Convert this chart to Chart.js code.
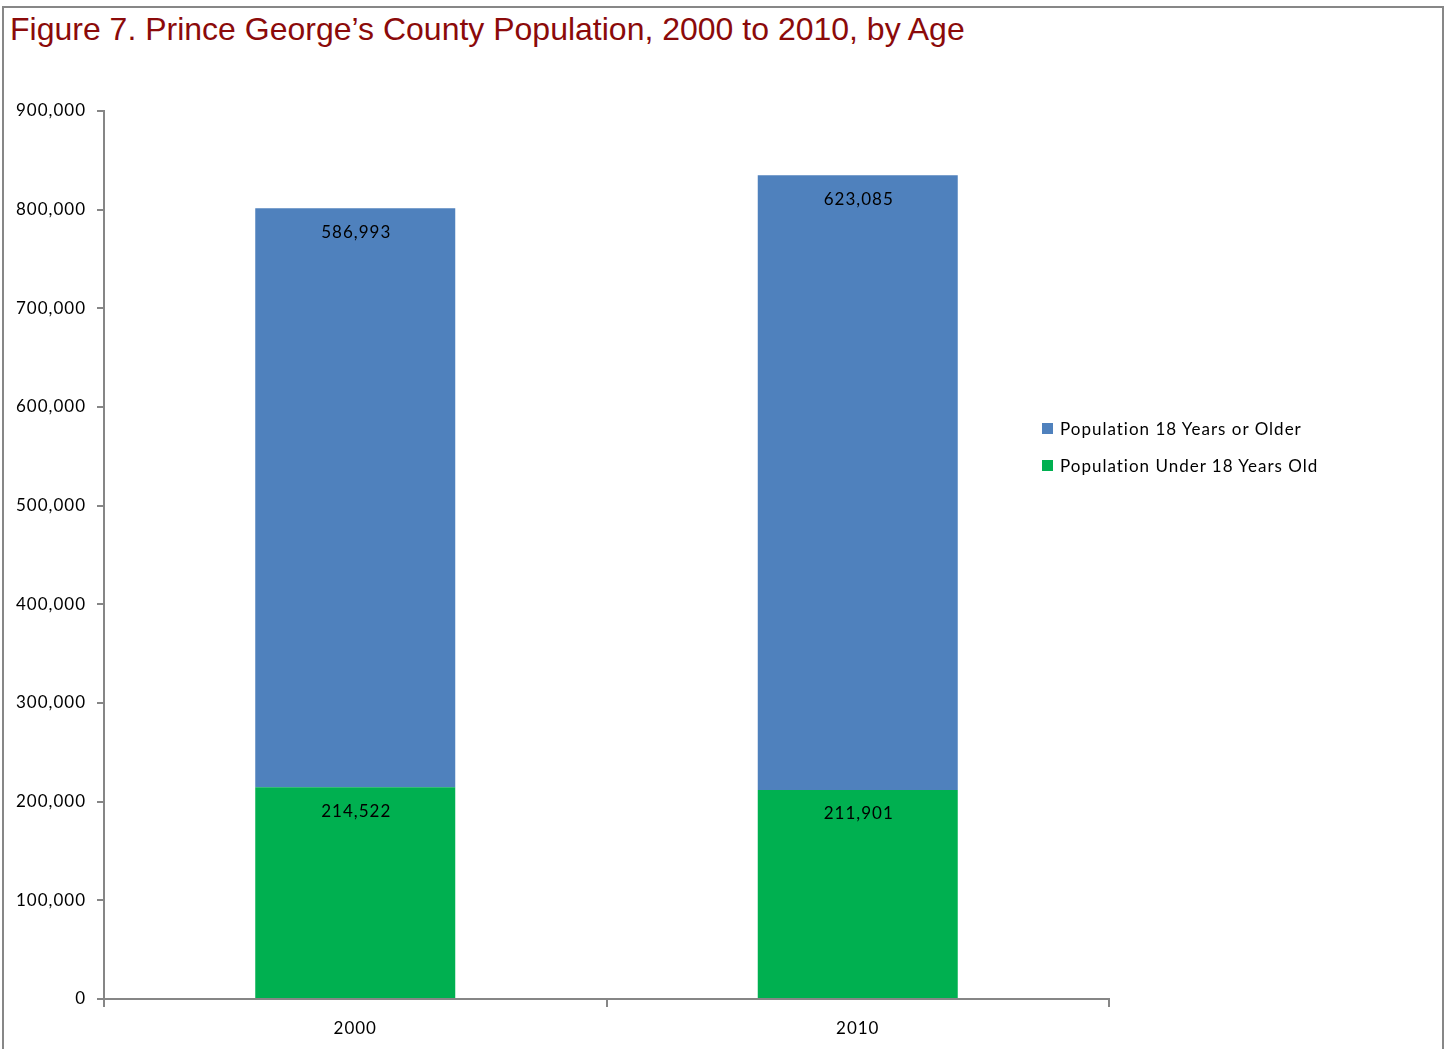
<!DOCTYPE html>
<html>
<head>
<meta charset="utf-8">
<script src="https://cdn.jsdelivr.net/npm/chart.js@4"></script>
<style>
    html, body { margin: 0; padding: 0; background: #fff; }
    body { width: 1448px; height: 1049px; position: relative; overflow: hidden; }
    .frame {
        position: absolute; left: 2px; top: 6px; width: 1442px; height: 1100px;
        border: 2px solid #878787; box-sizing: border-box;
    }
    .title {
        position: absolute; left: 10px; top: 11px;
        font-family: "Liberation Sans", Arial, sans-serif; font-size: 32px;
        color: #8b0a0a; white-space: nowrap;
    }
    #chart-wrap { position: absolute; left: 0; top: 0; width: 1448px; height: 1049px; }
    .legend {
        position: absolute; left: 1042px; top: 418px;
        font-family: Lato, "Open Sans", sans-serif; font-size: 17px; color: #000;
        letter-spacing: 1px;
    }
    .legend-item { display: flex; align-items: center; height: 20px; margin-bottom: 17px; white-space: nowrap; }
    .legend-box { width: 11px; height: 11px; margin-right: 7px; }
</style>
</head>
<body>
<div class="frame"></div>
<div class="title">Figure 7. Prince George’s County Population, 2000 to 2010, by Age</div>
<div id="chart-wrap"><canvas id="chart" width="1448" height="1049"></canvas></div>
<div class="legend" id="legend"></div>
<script>
// Dados do gráfico
const years = ['2000', '2010'];
const under18 = [214522, 211901];
const adults = [586993, 623085];
const yTicks = [0, 100000, 200000, 300000, 400000, 500000, 600000, 700000, 800000, 900000];

const seriesLabels = ['Population Under 18 Years Old', 'Population 18 Years or Older'];
const seriesColors = ['#00b050', '#4f81bd'];

const axisGray = '#868686';
const labelFont = { family: 'Lato, "Open Sans", sans-serif', size: 17 };

// Espaçamento entre letras, parecido com o Calibri do original
const letterSpacing = {
    id: 'letterSpacing',
    beforeDraw(chart) {
        chart.ctx.letterSpacing = '1px';
    }
};

// Rótulos dentro do topo de cada segmento
const segmentLabels = {
    id: 'segmentLabels',
    afterDatasetsDraw(chart) {
        const ctx = chart.ctx;
        ctx.save();
        ctx.font = `${labelFont.size}px ${labelFont.family}`;
        ctx.fillStyle = '#000';
        ctx.textAlign = 'center';
        ctx.textBaseline = 'middle';
        chart.data.datasets.forEach((ds, i) => {
            chart.getDatasetMeta(i).data.forEach((bar, j) => {
                ctx.fillText(ds.data[j].toLocaleString('en-US'), bar.x + 1, bar.y + 24);
            });
        });
        ctx.restore();
    }
};

const chart = new Chart(document.getElementById('chart'), {
    type: 'bar',
    data: {
        labels: years,
        datasets: [
            { label: seriesLabels[0], data: under18, backgroundColor: seriesColors[0] },
            { label: seriesLabels[1], data: adults, backgroundColor: seriesColors[1] }
        ]
    },
    options: {
        responsive: false,
        animation: false,
        barPercentage: 0.398,
        categoryPercentage: 1,
        layout: { padding: { top: 111, right: 339, bottom: 0, left: 0 } },
        plugins: {
            legend: { display: false },
            tooltip: { enabled: false }
        },
        scales: {
            x: {
                stacked: true,
                border: { color: axisGray, width: 2 },
                grid: { offset: true, drawOnChartArea: false, color: axisGray, lineWidth: 2, tickLength: 8 },
                ticks: { color: '#000', font: labelFont, padding: 11 },
                afterFit: scale => { scale.height = 50; }
            },
            y: {
                stacked: true,
                min: 0,
                max: 900000,
                afterBuildTicks: scale => { scale.ticks = yTicks.map(v => ({ value: v })); },
                border: { color: axisGray, width: 2 },
                grid: { drawOnChartArea: false, color: axisGray, lineWidth: 2, tickLength: 7 },
                ticks: {
                    color: '#000', font: labelFont, padding: 11,
                    callback: v => v.toLocaleString('en-US')
                },
                afterFit: scale => { scale.width = 104; }
            }
        }
    },
    plugins: [letterSpacing, segmentLabels]
});

// Legenda em HTML (ordem: adultos primeiro)
const legend = document.getElementById('legend');
[1, 0].forEach(i => {
    legend.innerHTML += `<div class="legend-item"><span class="legend-box" style="background:${seriesColors[i]}"></span>${seriesLabels[i]}</div>`;
});
</script>
</body>
</html>
